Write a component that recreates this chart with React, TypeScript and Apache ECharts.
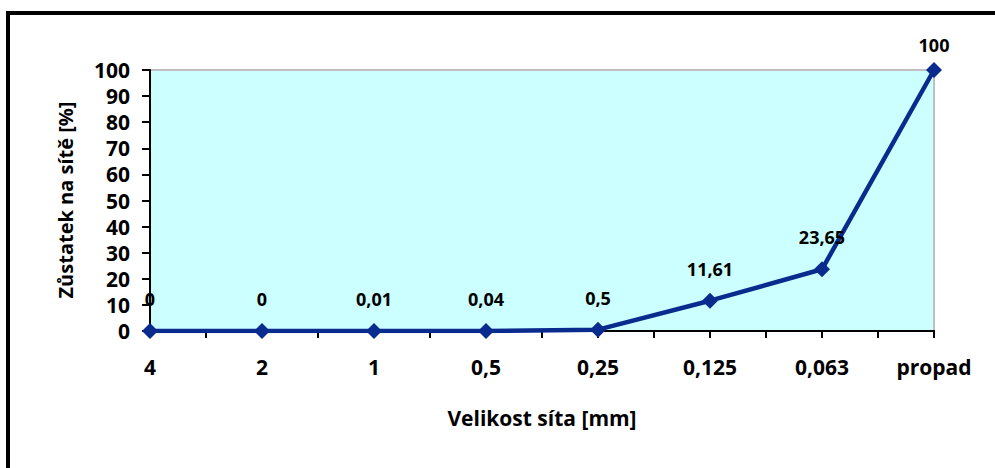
import React, { useEffect, useRef } from "react";
import * as echarts from "echarts";

// Sieve sizes (mm) and residue retained on each sieve (%)
const sieveSizes = ["4", "2", "1", "0,5", "0,25", "0,125", "0,063", "propad"];
const residue = [0, 0, 0.01, 0.04, 0.5, 11.61, 23.65, 100];
const residueLabels = ["0", "0", "0,01", "0,04", "0,5", "11,61", "23,65", "100"];

const FONT = "'Open Sans', 'Noto Sans', sans-serif";

export default function App() {
  const ref = useRef<HTMLDivElement>(null);

  useEffect(() => {
    if (!ref.current) return;
    const chart = echarts.init(ref.current, null, { renderer: "svg" });

    const data = residue.map((v, i) => ({
      value: v,
      label: {
        formatter: residueLabels[i],
        distance: i === residue.length - 1 ? 8 : 15,
      },
    }));

    chart.setOption({
      animation: false,
      backgroundColor: "#ffffff",
      textStyle: { fontFamily: FONT },
      grid: {
        left: 150,
        right: 61,
        top: 70,
        bottom: 137,
        show: true,
        backgroundColor: "#CCFFFF",
        borderColor: "#c0c0c0",
        borderWidth: 2,
      },
      xAxis: [
        {
          type: "category",
          data: sieveSizes,
          boundaryGap: false,
          axisLine: { show: true, lineStyle: { color: "#000", width: 2 } },
          axisTick: { show: false },
          axisLabel: {
            color: "#000",
            fontWeight: "bold",
            fontSize: 21,
            fontFamily: FONT,
            margin: 25,
          },
          splitLine: { show: false },
        },
        {
          // tick marks every half step along the bottom axis
          type: "value",
          position: "bottom",
          min: 0,
          max: 7,
          interval: 0.5,
          axisLine: { show: true, lineStyle: { color: "#000", width: 2 } },
          axisTick: { show: true, length: 7, lineStyle: { color: "#000", width: 2 } },
          axisLabel: { show: false },
          splitLine: { show: false },
        },
      ],
      yAxis: {
        type: "value",
        min: 0,
        max: 100,
        interval: 10,
        axisLine: { show: true, lineStyle: { color: "#000", width: 2 } },
        axisTick: { show: true, length: 8, lineStyle: { color: "#000", width: 2 } },
        axisLabel: {
          color: "#000",
          fontWeight: "bold",
          fontSize: 21,
          fontFamily: FONT,
          margin: 20,
        },
        splitLine: { show: false },
      },
      series: [
        {
          type: "line",
          xAxisIndex: 0,
          data,
          symbol: "diamond",
          symbolSize: 16,
          lineStyle: { color: "#0a2b8e", width: 4.5 },
          itemStyle: { color: "#0a2b8e" },
          label: {
            show: true,
            position: "top",
            color: "#000",
            fontWeight: "bold",
            fontSize: 18,
            fontFamily: FONT,
          },
        },
      ],
      graphic: [
        {
          type: "rect",
          shape: { x: 8, y: 13, width: 1100, height: 1000 },
          style: { fill: "none", stroke: "#000", lineWidth: 4 },
          silent: true,
        },
        {
          type: "text",
          x: 65,
          y: 200,
          rotation: Math.PI / 2,
          style: {
            text: "Zůstatek na sítě [%]",
            fill: "#000",
            font: `bold 20px ${FONT}`,
            textAlign: "center",
            textVerticalAlign: "middle",
          },
        },
        {
          type: "text",
          x: 542,
          y: 418,
          style: {
            text: "Velikost síta [mm]",
            fill: "#000",
            font: `bold 21px ${FONT}`,
            textAlign: "center",
            textVerticalAlign: "middle",
          },
        },
      ],
    });

    return () => chart.dispose();
  }, []);

  return (
    <div
      ref={ref}
      style={{ position: "absolute", left: 0, top: 0, width: 995, height: 468 }}
    />
  );
}
